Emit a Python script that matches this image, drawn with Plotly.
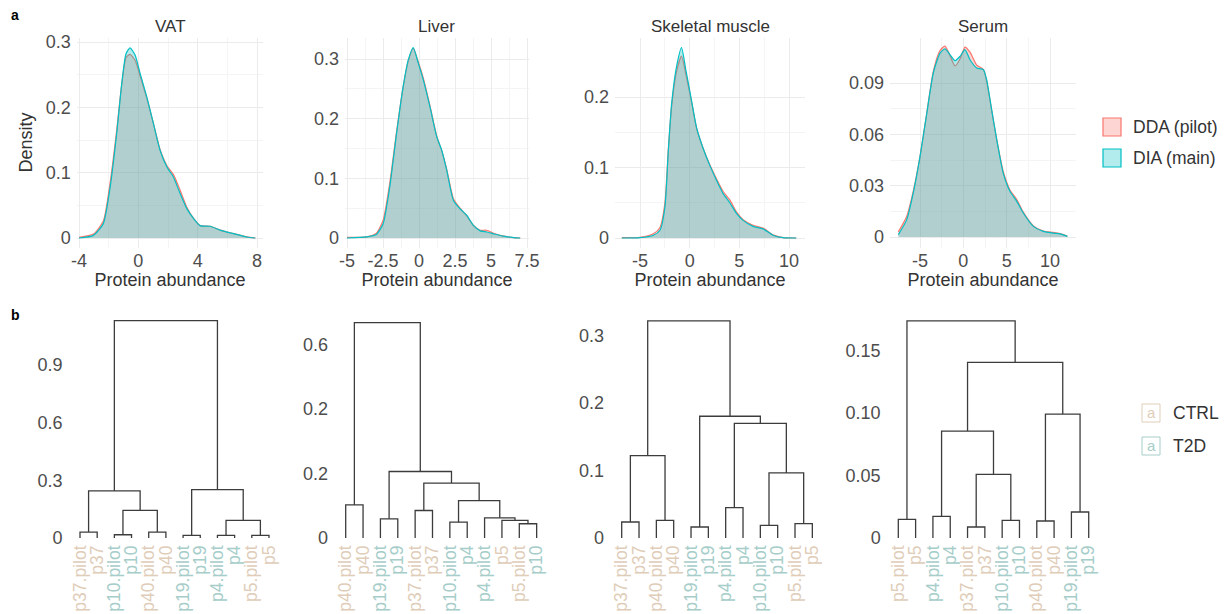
import plotly.graph_objects as go

W, H = 1227, 614
FONT = "Liberation Sans, Arial, sans-serif"
TICK_C = "#4D4D4D"
TXT_C = "#333333"
RED, TEAL = "#F8766D", "#00BFC4"
RED_F, TEAL_F = "rgba(248,118,109,0.3)", "rgba(0,191,196,0.3)"
CTRL_C, T2D_C = "#DFCDB9", "#A6CDC9"

# ---------------- data: densities ----------------
tissues = ["VAT", "Liver", "Skeletal muscle", "Serum"]

vat_x = [-4.0, -3.03, -2.36, -1.9, -1.46, -1.12, -0.83, -0.56, -0.22, 0.12, 0.57, 1.02, 1.47, 1.92,
         2.37, 2.82, 3.27, 3.72, 4.17, 4.85, 5.52, 6.42, 7.32, 7.89]
vat_dia = [0, 0.004, 0.022, 0.078, 0.16, 0.236, 0.282, 0.291, 0.28, 0.252, 0.216, 0.175, 0.134, 0.109,
           0.093, 0.068, 0.045, 0.030, 0.019, 0.018, 0.012, 0.0066, 0.0015, 0]
vat_dda = [0.001, 0.006, 0.026, 0.085, 0.165, 0.235, 0.276, 0.281, 0.272, 0.248, 0.214, 0.175, 0.135, 0.111,
           0.097, 0.073, 0.047, 0.030, 0.019, 0.018, 0.012, 0.0068, 0.0016, 0]

liver_x = [-5, -3.65, -2.96, -2.49, -2.03, -1.56, -1.1, -0.75, -0.4, -0.05, 0.3, 0.76, 1.23, 1.58, 1.92,
           2.39, 2.85, 3.32, 3.78, 4.25, 4.71, 5.18, 5.87, 6.57, 7.03]
liver_dia = [0, 0.002, 0.006, 0.024, 0.086, 0.175, 0.254, 0.298, 0.319, 0.293, 0.265, 0.22, 0.17, 0.147,
             0.114, 0.063, 0.049, 0.038, 0.021, 0.012, 0.010, 0.007, 0.003, 0.0006, 0]
liver_dda = [0.001, 0.002, 0.008, 0.03, 0.092, 0.178, 0.253, 0.296, 0.318, 0.295, 0.268, 0.222, 0.171, 0.146,
             0.116, 0.066, 0.050, 0.037, 0.021, 0.013, 0.013, 0.008, 0.003, 0.0006, 0]

muscle_x = [-6.83, -5, -3.66, -2.99, -2.49, -2.15, -1.82, -1.32, -0.82, -0.38, 0.19, 0.69, 1.36, 2.03, 2.7,
            3.37, 4.04, 4.71, 5.38, 6.38, 7.39, 8.39, 9.39, 10.73]
muscle_dia = [0, 0.0005, 0.004, 0.011, 0.044, 0.124, 0.19, 0.243, 0.27, 0.238, 0.195, 0.157, 0.127, 0.103,
              0.082, 0.063, 0.050, 0.035, 0.025, 0.0165, 0.013, 0.004, 0.0005, 0]
muscle_dda = [0.0005, 0.001, 0.006, 0.015, 0.05, 0.125, 0.186, 0.236, 0.258, 0.232, 0.193, 0.156, 0.127, 0.104,
              0.084, 0.066, 0.054, 0.037, 0.026, 0.018, 0.014, 0.0045, 0.0006, 0]

serum_x = [-7.5, -6.54, -5.77, -5, -4.23, -3.46, -2.69, -2.12, -1.54, -0.96, -0.38, 0.19, 0.77, 1.54, 2.31,
           2.69, 3.27, 3.85, 4.62, 5.38, 6.15, 6.92, 8.08, 9.23, 10.38, 11.15, 12]
serum_dia = [0.0014, 0.010, 0.026, 0.047, 0.072, 0.096, 0.1075, 0.110, 0.1066, 0.103, 0.1056, 0.1095, 0.1036,
             0.0988, 0.0978, 0.092, 0.0744, 0.057, 0.037, 0.0267, 0.021, 0.014, 0.0062, 0.0033, 0.0023, 0.0018, 0.0004]
serum_dda = [0.003, 0.012, 0.027, 0.047, 0.072, 0.097, 0.109, 0.1115, 0.106, 0.100, 0.104, 0.111, 0.108,
             0.1005, 0.098, 0.091, 0.074, 0.057, 0.038, 0.0275, 0.022, 0.0145, 0.0065, 0.0035, 0.0027, 0.002, 0.0005]

dens_x = [vat_x, liver_x, muscle_x, serum_x]
dens_dda = [vat_dda, liver_dda, muscle_dda, serum_dda]
dens_dia = [vat_dia, liver_dia, muscle_dia, serum_dia]

# tick labels for density panels
dens_xticks = [[-4, 0, 4, 8], [-5, -2.5, 0, 2.5, 5, 7.5], [-5, 0, 5, 10], [-5, 0, 5, 10]]
dens_xticktext = [["-4", "0", "4", "8"], ["-5", "-2.5", "0", "2.5", "5", "7.5"],
                  ["-5", "0", "5", "10"], ["-5", "0", "5", "10"]]
dens_yticks = [[0, 0.1, 0.2, 0.3], [0, 0.1, 0.2, 0.3], [0, 0.1, 0.2], [0, 0.03, 0.06, 0.09]]
dens_yticktext = [["0", "0.1", "0.2", "0.3"], ["0", "0.1", "0.2", "0.3"], ["0", "0.1", "0.2"],
                  ["0", "0.03", "0.06", "0.09"]]

# ---------------- data: dendrograms ----------------
groups = {"p37": "CTRL", "p40": "CTRL", "p5": "CTRL", "p10": "T2D", "p19": "T2D", "p4": "T2D"}

vat_leaves = ["p37.pilot", "p37", "p10.pilot", "p10", "p40.pilot", "p40",
              "p19.pilot", "p19", "p4.pilot", "p4", "p5.pilot", "p5"]
vat_merges = [(0, 1, 0.031), (2, 3, 0.017), (4, 5, 0.031), (13, 14, 0.144), (12, 15, 0.245),
              (6, 7, 0.014), (8, 9, 0.014), (10, 11, 0.014), (18, 19, 0.092), (17, 20, 0.252),
              (16, 21, 1.13)]

liver_leaves = ["p40.pilot", "p40", "p19.pilot", "p19", "p37.pilot", "p37",
                "p10.pilot", "p4", "p4.pilot", "p5", "p5.pilot", "p10"]
liver_merges = [(0, 1, 0.513), (2, 3, 0.297), (4, 5, 0.426), (6, 7, 0.246), (10, 11, 0.221),
                (9, 16, 0.272), (8, 17, 0.313), (15, 18, 0.579), (14, 19, 0.851), (13, 20, 1.031),
                (12, 21, 3.338)]

muscle_leaves = ["p37.pilot", "p37", "p40.pilot", "p40", "p19.pilot", "p19",
                 "p4.pilot", "p4", "p10.pilot", "p10", "p5.pilot", "p5"]
muscle_merges = [(0, 1, 0.0237), (2, 3, 0.0261), (12, 13, 0.1219), (4, 5, 0.0163), (6, 7, 0.0449),
                 (8, 9, 0.0187), (10, 11, 0.0212), (17, 18, 0.0962), (16, 19, 0.1697), (15, 20, 0.1801),
                 (14, 21, 0.3212)]

serum_leaves = ["p5.pilot", "p5", "p4.pilot", "p4", "p37.pilot", "p37",
                "p10.pilot", "p10", "p40.pilot", "p40", "p19.pilot", "p19"]
serum_merges = [(0, 1, 0.0149), (2, 3, 0.0173), (4, 5, 0.0088), (6, 7, 0.0141), (14, 15, 0.0509),
                (13, 16, 0.0855), (8, 9, 0.0136), (10, 11, 0.0208), (18, 19, 0.0991), (17, 20, 0.1404),
                (12, 21, 0.1735)]

dendro_leaves = [vat_leaves, liver_leaves, muscle_leaves, serum_leaves]
dendro_merges = [vat_merges, liver_merges, muscle_merges, serum_merges]
dendro_yticks = [[0, 0.3, 0.6, 0.9], [0, 1, 2, 3], [0, 0.1, 0.2, 0.3], [0, 0.05, 0.10, 0.15]]
dendro_yticktext = [["0", "0.3", "0.6", "0.9"], ["0", "0.2", "0.2", "0.6"],
                    ["0", "0.1", "0.2", "0.3"], ["0", "0.05", "0.10", "0.15"]]

# ---------------- layout geometry (pixels) ----------------
def xdom(p0, p1):
    return [p0 / W, p1 / W]

def ydom(top, bot):
    return [1 - bot / H, 1 - top / H]

def calib_range(p0, p1, va, pa, vb, pb):
    k = (vb - va) / (pb - pa)
    return [va + (p0 - pa) * k, va + (p1 - pa) * k]

dens_px = [(76.7, 263.3, (-4, 79, 8, 257)), (345, 529, (-5, 347, 7.5, 527)),
           (615, 805, (-5, 640, 10, 789)), (890, 1076, (-5, 920, 10, 1050))]
dens_ycal = [(0, 238, 0.3, 42), (0, 238, 0.3, 59), (0, 238, 0.2, 97), (0, 237, 0.09, 83)]
DTOP, DBOT = 37.5, 247.5

dend_px = [(80, 17.18, 192.3), (345.7, 17.36, 64.5), (621.7, 17.33, 676.0), (898.3, 17.31, 1251.0)]
GTOP, GBOT = 315, 538

fig = go.Figure()
layout = dict(width=W, height=H, margin=dict(l=0, r=0, t=0, b=0), plot_bgcolor="white",
              paper_bgcolor="white", showlegend=False, font=dict(family=FONT, color=TXT_C))

annotations = []
shapes = []

for i in range(4):
    ax = i + 1
    xs = "x" if ax == 1 else f"x{ax}"
    ys = "y" if ax == 1 else f"y{ax}"
    fig.add_trace(go.Scatter(x=dens_x[i], y=dens_dda[i], mode="lines", fill="tozeroy",
                             line=dict(color=RED, width=1.2, shape="spline", smoothing=0.6),
                             fillcolor=RED_F, xaxis=xs, yaxis=ys, name="DDA (pilot)", hoverinfo="skip"))
    fig.add_trace(go.Scatter(x=dens_x[i], y=dens_dia[i], mode="lines", fill="tozeroy",
                             line=dict(color=TEAL, width=1.2, shape="spline", smoothing=0.6),
                             fillcolor=TEAL_F, xaxis=xs, yaxis=ys, name="DIA (main)", hoverinfo="skip"))
    p0, p1, (va, pa, vb, pb) = dens_px[i]
    ya, ypa, yb, ypb = dens_ycal[i]
    key = "" if ax == 1 else str(ax)
    layout["xaxis" + key] = dict(
        domain=xdom(p0, p1), range=calib_range(p0, p1, va, pa, vb, pb), anchor=ys,
        tickvals=dens_xticks[i], ticktext=dens_xticktext[i], showgrid=True, gridcolor="#EBEBEB",
        gridwidth=1, zeroline=False, showline=False, ticks="", ticklabelstandoff=0,
        tickfont=dict(size=18, color=TICK_C, family=FONT),
        minor=dict(showgrid=True, gridcolor="#F4F4F4", gridwidth=0.7,
                   tickvals=[(a + b) / 2 for a, b in zip(dens_xticks[i][:-1], dens_xticks[i][1:])]),
        title=dict(text="Protein abundance", font=dict(size=18, color=TXT_C, family=FONT), standoff=0),
        automargin=False, fixedrange=True)
    layout["yaxis" + key] = dict(
        domain=ydom(DTOP, DBOT), range=calib_range(DBOT, DTOP, ya, ypa, yb, ypb), anchor=xs,
        tickvals=dens_yticks[i], ticktext=dens_yticktext[i], showgrid=True, gridcolor="#EBEBEB",
        gridwidth=1, zeroline=False, showline=False, ticks="", ticklabelstandoff=5,
        tickfont=dict(size=18, color=TICK_C, family=FONT),
        minor=dict(showgrid=True, gridcolor="#F4F4F4", gridwidth=0.7,
                   tickvals=[(a + b) / 2 for a, b in zip(dens_yticks[i][:-1], dens_yticks[i][1:])]),
        automargin=False, fixedrange=True)
    if i == 0:
        layout["yaxis"]["title"] = dict(text="Density", font=dict(size=18, color=TXT_C, family=FONT),
                                        standoff=8)
    annotations.append(dict(text=tissues[i], x=(p0 + p1) / 2 / W, y=1 - 26 / H, xref="paper", yref="paper",
                            showarrow=False, xanchor="center", yanchor="middle",
                            font=dict(size=17, color=TXT_C, family=FONT)))

def dendro_lines(merges, n):
    pos = {k: k + 1 for k in range(n)}
    hgt = {k: 0.0 for k in range(n)}
    lx, ly = [], []
    for j, (a, b, h) in enumerate(merges):
        cid = n + j
        xa, xb = pos[a], pos[b]
        lx += [xa, xa, xb, xb, None]
        ly += [hgt[a], h, h, hgt[b], None]
        pos[cid] = (xa + xb) / 2
        hgt[cid] = h
    return lx, ly

for i in range(4):
    ax = i + 5
    xs, ys = f"x{ax}", f"y{ax}"
    leaves = dendro_leaves[i]
    lx, ly = dendro_lines(dendro_merges[i], len(leaves))
    fig.add_trace(go.Scatter(x=lx, y=ly, mode="lines", line=dict(color="#3C3C3C", width=1.3),
                             xaxis=xs, yaxis=ys, hoverinfo="skip"))
    leaf1, ppl, ppu = dend_px[i]
    left = leaf1 - 0.5 * ppl
    right = left + 12 * ppl
    labels = []
    for lf in leaves:
        c = CTRL_C if groups[lf.split(".")[0]] == "CTRL" else T2D_C
        labels.append(f'<span style="color:{c}">{lf}</span>')
    layout[f"xaxis{ax}"] = dict(
        domain=xdom(left, right), range=[0.5, 12.5], anchor=ys, tickvals=list(range(1, 13)),
        ticktext=labels, tickangle=-90, showgrid=False, zeroline=False, showline=False, ticks="",
        ticklabelstandoff=3, tickfont=dict(size=17.5, color=CTRL_C, family=FONT), automargin=False,
        fixedrange=True)
    layout[f"yaxis{ax}"] = dict(
        domain=ydom(GTOP, GBOT), range=[0, (GBOT - GTOP) / ppu], anchor=xs,
        tickvals=dendro_yticks[i], ticktext=dendro_yticktext[i], showgrid=False, zeroline=False,
        showline=False, ticks="", ticklabelstandoff=8, tickfont=dict(size=18, color=TICK_C, family=FONT),
        automargin=False, fixedrange=True)

annotations.append(dict(text="<b>a</b>", x=15 / W, y=1 - 15 / H, xref="paper", yref="paper", showarrow=False,
                        xanchor="center", yanchor="middle", font=dict(size=14, color="black", family=FONT)))
annotations.append(dict(text="<b>b</b>", x=15 / W, y=1 - 315 / H, xref="paper", yref="paper", showarrow=False,
                        xanchor="center", yanchor="middle", font=dict(size=14, color="black", family=FONT)))

legend1 = [("DDA (pilot)", RED, RED_F, 127), ("DIA (main)", TEAL, TEAL_F, 158)]
for lab, lc, fc, cy in legend1:
    shapes.append(dict(type="rect", xref="paper", yref="paper", x0=1103 / W, x1=1121 / W,
                       y0=1 - (cy + 9) / H, y1=1 - (cy - 9) / H, line=dict(color=lc, width=1.2), fillcolor=fc))
    annotations.append(dict(text=lab, x=1131 / W, y=1 - cy / H, xref="paper", yref="paper", showarrow=False,
                            xanchor="left", yanchor="middle", font=dict(size=17.5, color=TXT_C, family=FONT)))

legend2 = [("CTRL", CTRL_C, 413), ("T2D", T2D_C, 446)]
for lab, c, cy in legend2:
    shapes.append(dict(type="rect", xref="paper", yref="paper", x0=1142 / W, x1=1160 / W,
                       y0=1 - (cy + 9) / H, y1=1 - (cy - 9) / H, line=dict(color=c, width=1), fillcolor="white"))
    annotations.append(dict(text="a", x=1151 / W, y=1 - (cy - 1) / H, xref="paper", yref="paper",
                            showarrow=False, xanchor="center", yanchor="middle",
                            font=dict(size=15, color=c, family=FONT)))
    annotations.append(dict(text=lab, x=1171 / W, y=1 - cy / H, xref="paper", yref="paper", showarrow=False,
                            xanchor="left", yanchor="middle", font=dict(size=17.5, color=TXT_C, family=FONT)))

layout["annotations"] = annotations
layout["shapes"] = shapes
fig.update_layout(**layout)
fig.write_html("out.html", config={"displayModeBar": False},
               post_script="document.body.style.margin='0';document.body.style.overflow='hidden';")
